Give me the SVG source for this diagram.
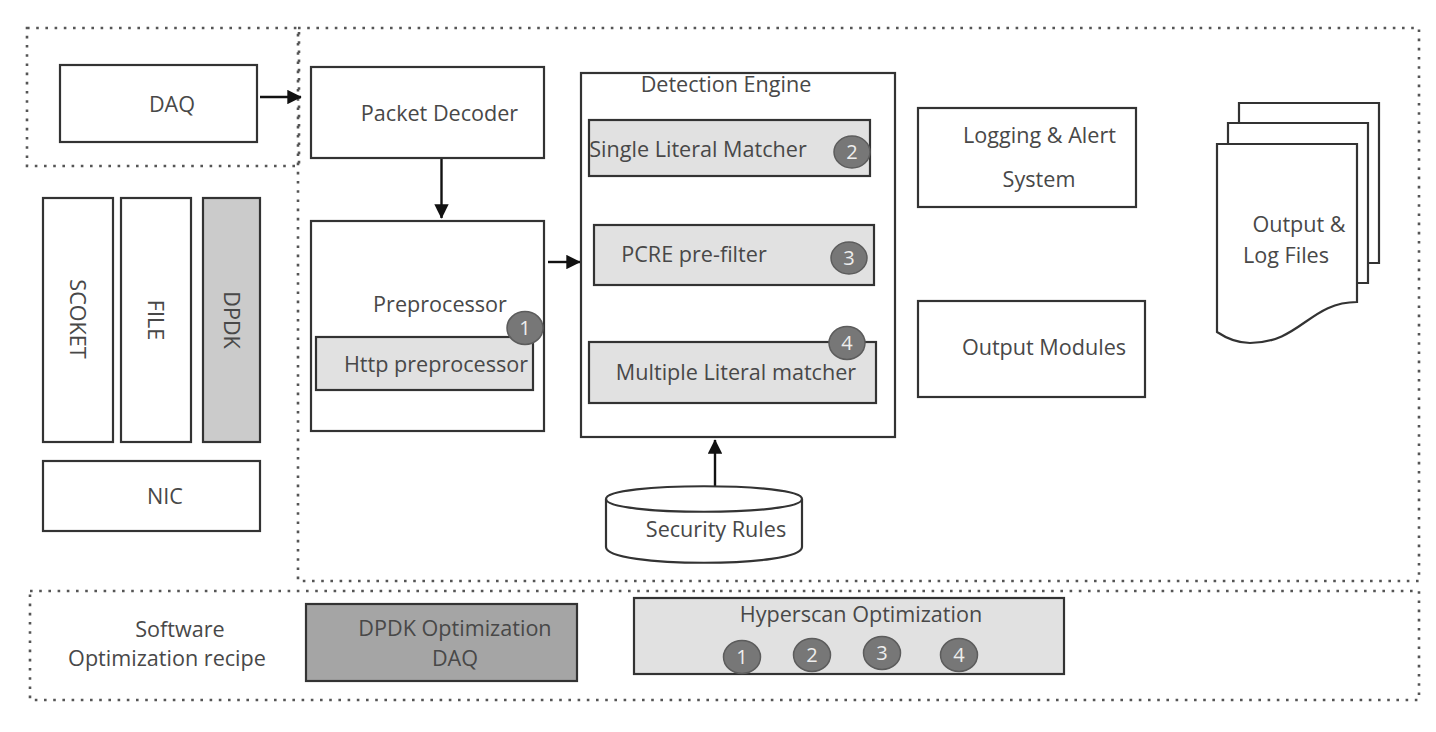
<svg xmlns="http://www.w3.org/2000/svg" width="1436" height="732" viewBox="0 0 1436 732">
<style>
.b{fill:#fff;stroke:#333;stroke-width:2.2}
.g{fill:#e1e1e1;stroke:#333;stroke-width:2.2}
.d{fill:none;stroke:#555;stroke-width:2.6;stroke-dasharray:2.6 6.6}
.t{font-family:"Open Sans","Noto Sans",sans-serif;font-size:21.6px;fill:#484848;text-anchor:middle}
.c{fill:#777;stroke:#5c5c5c;stroke-width:1.5}
.n{font-family:"Open Sans","Noto Sans",sans-serif;font-size:20px;fill:#eee;text-anchor:middle}
.l{fill:none;stroke:#111;stroke-width:2.4}
</style>
<defs><marker id="a" viewBox="0 0 10 10" refX="9.5" refY="5" markerWidth="6" markerHeight="6" markerUnits="strokeWidth" orient="auto"><path d="M0 0L10 5L0 10Z" fill="#111"/></marker></defs>
<g id="regions">
<path class="d" d="M298 28H1419V581H298Z"/>
<path class="d" d="M27 28H299V166H27Z"/>
<rect class="d" x="30" y="591" width="1389" height="109"/>
</g>
<g id="connectors">
<path class="l" marker-end="url(#a)" d="M260 97H301"/>
<path class="l" marker-end="url(#a)" d="M441.500 158V218"/>
<path class="l" marker-end="url(#a)" d="M548 262H580"/>
<path class="l" marker-end="url(#a)" d="M715 488V440"/>
</g>
<g id="daq"><rect class="b" x="60" y="65" width="197" height="77"/><text class="t" x="172" y="112">DAQ</text></g>
<g id="packet-decoder"><rect class="b" x="311" y="67" width="233" height="91"/><text class="t" x="439.500" y="121">Packet Decoder</text></g>
<g id="scoket"><rect class="b" x="43" y="198" width="70" height="244"/><text class="t" transform="translate(70 319) rotate(90)">SCOKET</text></g>
<g id="file"><rect class="b" x="121" y="198" width="70" height="244"/><text class="t" transform="translate(148 320) rotate(90)">FILE</text></g>
<g id="dpdk"><rect x="203" y="198" width="57" height="244" fill="#cbcbcb" stroke="#333" stroke-width="2.2"/><text class="t" transform="translate(224 320) rotate(90)">DPDK</text></g>
<g id="nic"><rect class="b" x="43" y="461" width="217" height="70"/><text class="t" x="165" y="504">NIC</text></g>
<g id="preprocessor"><rect class="b" x="311" y="221" width="233" height="210"/><text class="t" x="440" y="312">Preprocessor</text></g>
<g id="http-preprocessor"><rect class="g" x="316" y="337" width="217" height="53"/><text class="t" x="436" y="372">Http preprocessor</text><ellipse class="c" cx="525" cy="328" rx="18" ry="16.500"/><text class="n" x="525" y="335">1</text></g>
<g id="detection-engine"><rect class="b" x="581" y="73" width="314" height="364"/><text class="t" x="726" y="92">Detection Engine</text></g>
<g id="single-literal"><rect class="g" x="589" y="120" width="281" height="56"/><text class="t" x="698" y="157">Single Literal Matcher</text><ellipse class="c" cx="852" cy="152" rx="18" ry="16"/><text class="n" x="852" y="159">2</text></g>
<g id="pcre"><rect class="g" x="594" y="225" width="280" height="60"/><text class="t" x="694" y="262">PCRE pre-filter</text><ellipse class="c" cx="849" cy="258" rx="18" ry="16"/><text class="n" x="849" y="265">3</text></g>
<g id="multiple-literal"><rect class="g" x="589" y="342" width="287" height="61"/><text class="t" x="736" y="380">Multiple Literal matcher</text><ellipse class="c" cx="847" cy="343" rx="18" ry="16.500"/><text class="n" x="847" y="350">4</text></g>
<g id="logging"><rect class="b" x="918" y="108" width="218" height="99"/><text class="t" x="1039.500" y="143">Logging &amp; Alert</text><text class="t" x="1039" y="187">System</text></g>
<g id="output-modules"><rect class="b" x="918" y="301" width="227" height="96"/><text class="t" x="1044" y="355">Output Modules</text></g>
<g id="output-files">
<path class="b" d="M1239 103H1379V263H1239Z"/>
<path class="b" d="M1228 123H1368V283H1228Z"/>
<path class="b" d="M1217 144H1357V302C1310 302 1300 343 1250 343C1236 343 1226 338 1217 332Z"/>
<text class="t" x="1299" y="232">Output &amp;</text><text class="t" x="1286" y="263">Log Files</text></g>
<g id="security-rules"><path class="b" d="M606 499C606 482 802 482 802 499V547C802 568 606 568 606 547Z"/><path class="b" style="fill:none" d="M606 499C606 516 802 516 802 499"/><text class="t" x="716" y="537">Security Rules</text></g>
<g id="recipe"><text class="t" x="180" y="637">Software</text><text class="t" x="167" y="666">Optimization recipe</text></g>
<g id="dpdk-opt"><rect x="306" y="604" width="271" height="77" fill="#a5a5a5" stroke="#333" stroke-width="2.2"/><text class="t" x="455" y="636">DPDK Optimization</text><text class="t" x="455" y="666">DAQ</text></g>
<g id="hyperscan-opt"><rect class="g" x="634" y="598" width="430" height="76"/><text class="t" x="861" y="622">Hyperscan Optimization</text>
<ellipse class="c" cx="742" cy="657" rx="18.500" ry="16.500"/><text class="n" x="742" y="664">1</text>
<ellipse class="c" cx="812" cy="655" rx="18.500" ry="16.500"/><text class="n" x="812" y="662">2</text>
<ellipse class="c" cx="882" cy="653" rx="18.500" ry="16.500"/><text class="n" x="882" y="660">3</text>
<ellipse class="c" cx="959" cy="655" rx="18.500" ry="16.500"/><text class="n" x="959" y="662">4</text></g>
</svg>
